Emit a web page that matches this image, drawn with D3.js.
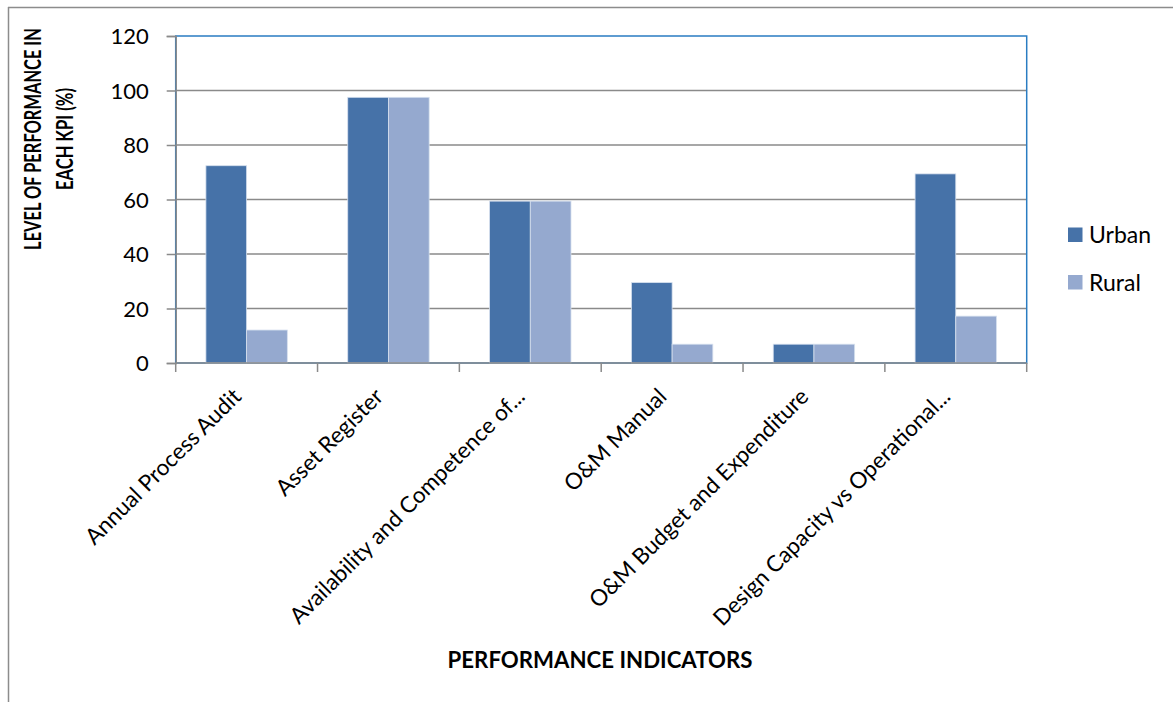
<!DOCTYPE html>
<html>
<head>
<meta charset="utf-8">
<script src="https://cdn.jsdelivr.net/npm/d3@7"></script>
<style>
  html, body { margin: 0; padding: 0; background: #fff; }
  svg { display: block; }
  text { font-family: Lato, "Noto Sans", sans-serif; fill: #000; }
</style>
</head>
<body>
<svg id="chart" width="1173" height="702"></svg>
<script>
const categories = [
  "Annual Process Audit",
  "Asset Register",
  "Availability and Competence of...",
  "O&M Manual",
  "O&M Budget and Expenditure",
  "Design Capacity vs Operational..."
];
const seriesNames = ["Urban", "Rural"];
const urbanValues = [72.4, 97.5, 59.4, 29.5, 6.9, 69.4];
const ruralValues = [12.1, 97.5, 59.4, 6.9, 6.9, 17.2];
const yTicks = [0, 20, 40, 60, 80, 100, 120];
const colors = ["#4672A8", "#95A9CF"];

const svg = d3.select("#chart");
const W = 1173, H = 702;
const plot = { left: 175.7, right: 1026.7, top: 36, bottom: 363 };

// outer frame (left and top lines only visible)
svg.append("line").attr("x1", 8.5).attr("x2", 8.5).attr("y1", 7).attr("y2", H)
  .attr("stroke", "#8c8c8c").attr("stroke-width", 1.5);
svg.append("line").attr("x1", 8).attr("x2", W).attr("y1", 7.5).attr("y2", 7.5)
  .attr("stroke", "#8c8c8c").attr("stroke-width", 1.5);

const x0 = d3.scaleBand().domain(categories).range([plot.left, plot.right])
  .paddingInner(0.426).paddingOuter(0.213);
const x1 = d3.scaleBand().domain(seriesNames).range([0, x0.bandwidth()]);
const y = d3.scaleLinear().domain([0, 120]).range([plot.bottom, plot.top]);

// gridlines
svg.append("g").selectAll("line").data(yTicks.filter(d => d > 0 && d < 120)).join("line")
  .attr("x1", plot.left).attr("x2", plot.right)
  .attr("y1", d => y(d)).attr("y2", d => y(d))
  .attr("stroke", "#8a8a8a").attr("stroke-width", 1.5);

// plot border (blue)
svg.append("rect").attr("x", plot.left).attr("y", plot.top)
  .attr("width", plot.right - plot.left).attr("height", plot.bottom - plot.top)
  .attr("fill", "none").attr("stroke", "#2a7cc2").attr("stroke-width", 1.5);

// bars
const data = categories.map((c, i) => ({ cat: c, vals: [urbanValues[i], ruralValues[i]] }));
const groups = svg.append("g").selectAll("g").data(data).join("g")
  .attr("transform", d => `translate(${x0(d.cat)},0)`);
groups.selectAll("rect").data(d => d.vals.map((v, j) => ({ s: seriesNames[j], v, j }))).join("rect")
  .attr("x", d => x1(d.s)).attr("width", x1.bandwidth())
  .attr("y", d => y(d.v)).attr("height", d => y(0) - y(d.v))
  .attr("fill", d => colors[d.j])
  .attr("stroke", "#d6e0ee").attr("stroke-width", 0.8);

// y axis
const yAxis = d3.axisLeft(y).tickValues(yTicks).tickSize(9).tickPadding(18);
const gy = svg.append("g").attr("transform", `translate(${plot.left},0)`).call(yAxis);
gy.select(".domain").attr("stroke", "#8a8a8a").attr("stroke-width", 1.5);
gy.selectAll(".tick line").attr("stroke", "#8a8a8a").attr("stroke-width", 1.5);
gy.selectAll(".tick text").style("font-family", "Lato, sans-serif").style("font-size", "22px")
  .attr("fill", "#000").attr("dy", "0.36em");

// x axis baseline & ticks
const boundaries = categories.map(c => x0(c) - x0.step() * x0.paddingInner() / 2)
  .concat([plot.right]);
svg.append("line").attr("x1", plot.left).attr("x2", plot.right)
  .attr("y1", plot.bottom).attr("y2", plot.bottom)
  .attr("stroke", "#8a8a8a").attr("stroke-width", 1.5);
svg.append("g").selectAll("line").data(boundaries).join("line")
  .attr("x1", d => d).attr("x2", d => d).attr("y1", plot.bottom).attr("y2", plot.bottom + 9)
  .attr("stroke", "#8a8a8a").attr("stroke-width", 1.5);

// category labels
svg.append("g").selectAll("text").data(categories).join("text")
  .attr("transform", d => `translate(${x0(d) + x0.bandwidth() / 2 - 4},${plot.bottom + 35}) rotate(-45)`)
  .attr("text-anchor", "end")
  .style("font-size", "22.5px")
  .text(d => d);

// axis titles (condensed to the reference width via a scale transform)
function title(str, tx, ty, rot, targetLen) {
  const t = svg.append("text")
    .attr("text-anchor", "middle").style("font-size", "23.5px").style("font-weight", "bold")
    .text(str);
  const natural = t.node().getComputedTextLength();
  const s = Math.min(1, targetLen / natural);
  t.attr("transform", `translate(${tx},${ty}) rotate(${rot}) scale(${s},1)`);
}
title("LEVEL OF PERFORMANCE IN", 41, 139, -90, 222);
title("EACH KPI (%)", 73, 139, -90, 102);
title("PERFORMANCE INDICATORS", 600, 668, 0, 305);

// legend
const legend = svg.append("g").selectAll("g").data(seriesNames).join("g")
  .attr("transform", (d, i) => `translate(1068,${227.5 + i * 47.5})`);
legend.append("rect").attr("width", 14.5).attr("height", 14.5).attr("fill", (d, i) => colors[i]);
legend.append("text").attr("x", 21).attr("y", 15.5).style("font-size", "23px").text(d => d);
</script>
</body>
</html>
